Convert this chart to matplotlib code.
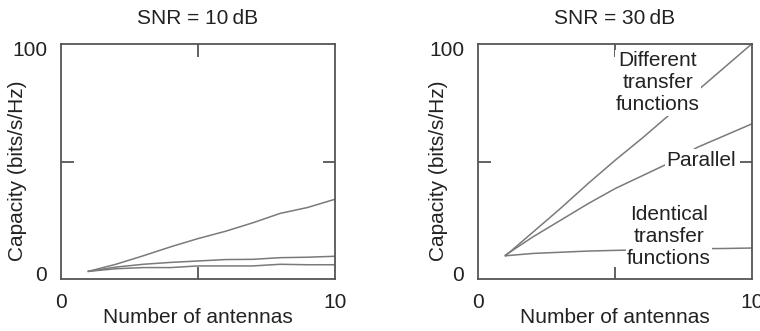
import numpy as np
import matplotlib
matplotlib.use('Agg')
import matplotlib.pyplot as plt
import matplotlib.transforms as mtransforms
from matplotlib.ticker import FixedLocator, NullFormatter

plt.rcParams['font.family'] = ['Liberation Sans', 'DejaVu Sans']

antennas = [1, 2, 3, 4, 5, 6, 7, 8, 9, 10]

# SNR = 10 dB
diff_10 = [3.4, 6.4, 10.0, 13.8, 17.3, 20.4, 24.0, 28.0, 30.5, 34.0]
par_10 = [3.4, 5.2, 6.4, 7.2, 7.8, 8.4, 8.5, 9.2, 9.4, 9.8]
ident_10 = [3.4, 4.5, 5.0, 5.0, 5.7, 5.7, 5.7, 6.4, 6.2, 6.2]

# SNR = 30 dB
diff_30 = [10.0, 20.0, 30.0, 40.5, 50.5, 60.0, 70.0, 80.0, 90.0, 100.0]
par_30 = [10.3, 18.0, 25.0, 32.0, 38.5, 44.0, 49.5, 56.0, 61.0, 66.0]
ident_30 = [10.0, 11.0, 11.5, 12.0, 12.3, 12.5, 12.8, 13.0, 13.1, 13.3]

titles = ['SNR = 10\u2009dB', 'SNR = 30\u2009dB']

line_col = '#7a7a7a'
axis_col = '#555555'
text_col = '#222222'

fig = plt.figure(figsize=(7.6, 3.31), dpi=100)
ax1 = fig.add_axes([0.0803, 0.156, 0.3605, 0.712])
ax2 = fig.add_axes([0.629, 0.156, 0.3605, 0.712])

for ax, title, series, ylab_x in [(ax1, titles[0], (diff_10, par_10, ident_10), -0.124),
                                  (ax2, titles[1], (diff_30, par_30, ident_30), -0.109)]:
    for s in series:
        ax.plot(antennas, s, color=line_col, lw=1.1, zorder=2)
    ax.set_xlim(0, 10)
    ax.set_ylim(0, 100)
    ax.set_xticks([0, 10])
    ax.set_xticklabels(['0', '10'])
    ax.set_yticks([0, 100])
    ax.set_yticklabels(['0', '100'])
    ax.xaxis.set_minor_locator(FixedLocator([5]))
    ax.yaxis.set_minor_locator(FixedLocator([50]))
    ax.xaxis.set_minor_formatter(NullFormatter())
    ax.yaxis.set_minor_formatter(NullFormatter())
    ax.tick_params(which='major', length=0, pad=10, labelsize=15, colors=text_col)
    ax.tick_params(which='minor', length=9, width=1.3, direction='in',
                   top=True, right=True, color=axis_col)
    # the y labels sit slightly inside the axis ends in the original
    ylabels = ax.get_yticklabels()
    ylabels[0].set_transform(ylabels[0].get_transform() +
                             mtransforms.ScaledTranslation(0, 6 / 100, fig.dpi_scale_trans))
    ylabels[1].set_transform(ylabels[1].get_transform() +
                             mtransforms.ScaledTranslation(0, -5 / 100, fig.dpi_scale_trans))
    for sp in ax.spines.values():
        sp.set_color(axis_col)
        sp.set_linewidth(1.3)
    ax.set_xlabel('Number of antennas', fontsize=15, color=text_col, labelpad=-3)
    ax.set_ylabel('Capacity (bits/s/Hz)', fontsize=15, color=text_col)
    ax.yaxis.set_label_coords(ylab_x, 0.46)
    ax.set_title(title, fontsize=15, color=text_col, pad=14)

box = dict(facecolor='white', edgecolor='none', pad=1)
ax2.text(6.57, 83.5, 'Different\ntransfer\nfunctions', ha='center', va='center',
         fontsize=15, color=text_col, linespacing=1.2, bbox=box, zorder=3)
ax2.text(8.14, 50.6, 'Parallel', ha='center', va='center',
         fontsize=15, color=text_col, bbox=box, zorder=3)
ax2.text(6.97, 18.1, 'Identical\ntransfer\nfunctions', ha='center', va='center',
         fontsize=15, color=text_col, linespacing=1.2, bbox=box, zorder=3)

fig.savefig('out.png', dpi=100)
